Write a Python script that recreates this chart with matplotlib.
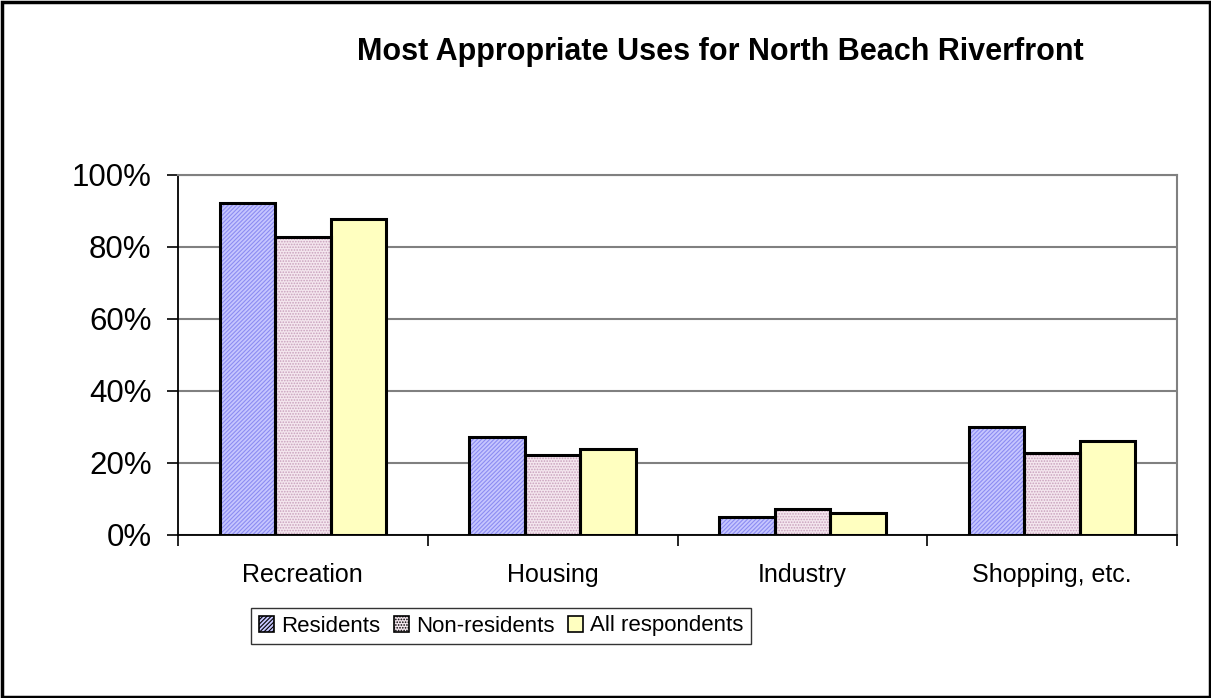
import matplotlib
matplotlib.use("Agg")
import matplotlib.pyplot as plt
from matplotlib.patches import Rectangle, Patch
import numpy as np

plt.rcParams['font.family'] = ['Liberation Sans', 'DejaVu Sans']

categories = ["Recreation", "Housing", "Industry", "Shopping, etc."]
series_names = ["Residents", "Non-residents", "All respondents"]
residents = [92.3, 27.2, 5.0, 30.1]
non_residents = [82.8, 22.2, 7.2, 22.8]
all_respondents = [87.8, 23.9, 6.1, 26.1]
y_ticks = [0, 20, 40, 60, 80, 100]
y_tick_labels = ["0%", "20%", "40%", "60%", "80%", "100%"]
title = "Most Appropriate Uses for North Beach Riverfront"

series = [residents, non_residents, all_respondents]
faces = ["#C6C6FF", "#F4E6EE", "#FFFFC0"]
hatches = ["////////", "......", None]
hatch_cols = ["#8C8CF2", "#C8A0BC", None]

fig = plt.figure(figsize=(12.11, 6.98), dpi=100)
ax = fig.add_axes([178/1211, 1-535/698, (1177-178)/1211, (535-175)/698])

x = np.arange(len(categories))
gap = 1.5
bw = 1.0 / (3 + gap)
plt.rcParams['hatch.linewidth'] = 0.8
for i, vals in enumerate(series):
    pos = x - bw + i * bw
    if hatches[i]:
        ax.bar(pos, vals, width=bw, color=faces[i], edgecolor=hatch_cols[i],
               hatch=hatches[i], linewidth=0, zorder=3)
        ax.bar(pos, vals, width=bw, facecolor='none', edgecolor='black',
               linewidth=2.2, zorder=4)
    else:
        ax.bar(pos, vals, width=bw, color=faces[i], edgecolor='black',
               linewidth=2.2, zorder=3)

ax.set_xlim(-0.5, len(categories) - 0.5)
ax.set_ylim(0, 100)
ax.set_yticks(y_ticks)
ax.set_yticklabels(y_tick_labels, fontsize=22.5)
ax.yaxis.grid(True, color='#808080', linewidth=1.5, zorder=0)
ax.set_axisbelow(True)

ax.set_xticks(x)
ax.set_xticklabels(categories, fontsize=18)
ax.tick_params(axis='x', length=0, pad=20)
ax.set_xticks(np.arange(len(categories) + 1) - 0.5, minor=True)
ax.tick_params(axis='x', which='minor', length=8, width=1.2, direction='out', color='black')
ax.tick_params(axis='y', length=8, width=1.2, direction='out', color='black', pad=11)

for s in ['top', 'right']:
    ax.spines[s].set_color('#808080')
    ax.spines[s].set_linewidth(1.5)
for s in ['left', 'bottom']:
    ax.spines[s].set_color('black')
    ax.spines[s].set_linewidth(1.3)

fig.text(720/1211, 1-60/698, title, fontsize=22, fontweight='bold',
         ha='center', va='baseline')

handles = []
for i in range(3):
    if hatches[i]:
        handles.append(Patch(facecolor=faces[i], edgecolor='black', hatch=hatches[i], linewidth=1.2))
    else:
        handles.append(Patch(facecolor=faces[i], edgecolor='black', linewidth=1.2))
leg = fig.legend(handles, series_names, loc='center', bbox_to_anchor=(501/1211, 1-626/698),
                 ncol=3, fontsize=16, frameon=True, fancybox=False, edgecolor='black',
                 handlelength=0.7, handleheight=0.7, handletextpad=0.3, columnspacing=0.6,
                 borderpad=0.35, borderaxespad=0)
leg.get_frame().set_linewidth(1.0)

fig.patches.append(Rectangle((1.5/1211, 1.5/698), 1-3/1211, 1-3/698, transform=fig.transFigure,
                             fill=False, edgecolor='black', linewidth=2.5))

fig.savefig("out.png", dpi=100)
